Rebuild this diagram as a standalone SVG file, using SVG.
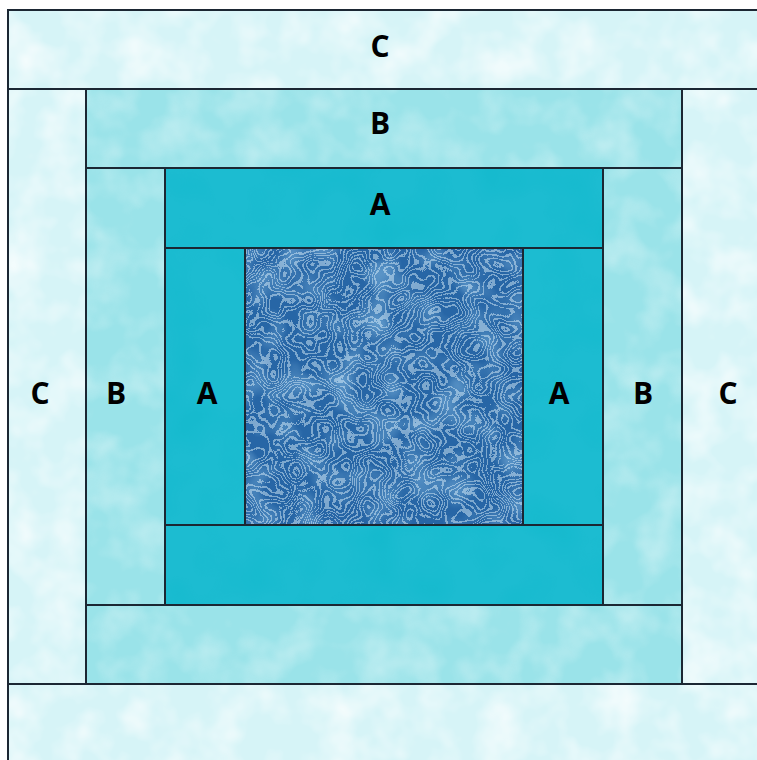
<svg xmlns="http://www.w3.org/2000/svg" width="757" height="760" viewBox="0 0 757 760">
<defs>
<style>
.c{fill:#d6f4f7}
.b{fill:#9ae3e9}
.a{fill:#1cbcd1}
.ctr{fill:#2766a6}
.edge{fill:none;stroke:#1b2733;stroke-width:2}
.lbl{font-family:"Open Sans","Liberation Sans",sans-serif;font-weight:bold;font-size:30px;fill:#000;text-anchor:middle}
.tex{fill:#fff}
</style>
<filter id="mottle" x="0" y="0" width="1" height="1">
<feTurbulence type="fractalNoise" baseFrequency="0.025" numOctaves="3" seed="3" result="n"/>
<feColorMatrix in="n" type="matrix" values="0 0 0 0 1  0 0 0 0 1  0 0 0 0 1  1.4 0 0 0 -0.55" result="w"/>
<feComposite in="w" in2="SourceGraphic" operator="in"/>
</filter>
<filter id="mottleDark" x="0" y="0" width="1" height="1">
<feTurbulence type="fractalNoise" baseFrequency="0.02" numOctaves="2" seed="8" result="n"/>
<feColorMatrix in="n" type="matrix" values="0 0 0 0 0  0 0 0 0 0.45  0 0 0 0 0.55  1.2 0 0 0 -0.55" result="w"/>
<feComposite in="w" in2="SourceGraphic" operator="in"/>
</filter>
<filter id="patch" x="0" y="0" width="1" height="1">
<feTurbulence type="fractalNoise" baseFrequency="0.03" numOctaves="2" seed="21" result="n"/>
<feColorMatrix in="n" type="matrix" values="0 0 0 0 0.35  0 0 0 0 0.65  0 0 0 0 0.9  1.6 0 0 0 -0.7" result="w"/>
<feComposite in="w" in2="SourceGraphic" operator="in"/>
</filter>
<filter id="swirl" x="0" y="0" width="1" height="1">
<feTurbulence type="fractalNoise" baseFrequency="0.018" numOctaves="3" seed="11" result="n"/>
<feColorMatrix in="n" type="matrix" values="0 0 0 0 0.8  0 0 0 0 0.93  0 0 0 0 1  1 0 0 0 0" result="w"/>
<feComponentTransfer in="w" result="bands">
<feFuncA type="discrete" tableValues="0 0 0.9 0 0 0.9 0 0 0.9 0 0 0.9 0 0 0.9 0 0 0.9 0 0 0.9 0 0 0.9 0 0 0.9 0 0 0.9 0 0 0.9 0 0 0.9 0 0 0.9 0 0 0.9 0 0 0.9 0 0 0.9 0 0 0.9 0 0 0.9 0 0 0.9 0 0 0.9"/>
</feComponentTransfer>
<feComposite in="bands" in2="SourceGraphic" operator="in"/>
</filter>
</defs>

<g id="C-top">
<rect class="c" x="8" y="10" width="749" height="79"/>
<rect class="tex" x="8" y="10" width="749" height="79" filter="url(#mottle)"/>
<rect class="edge" x="8" y="10" width="760" height="79"/>
<text class="lbl" x="380" y="57">C</text>
</g>
<g id="C-bottom">
<rect class="c" x="8" y="684" width="749" height="76"/>
<rect class="tex" x="8" y="684" width="749" height="76" filter="url(#mottle)"/>
<rect class="edge" x="8" y="684" width="760" height="90"/>
</g>
<g id="C-left">
<rect class="c" x="8" y="89" width="78" height="595"/>
<rect class="tex" x="8" y="89" width="78" height="595" filter="url(#mottle)"/>
<rect class="edge" x="8" y="89" width="78" height="595"/>
<text class="lbl" x="40" y="404">C</text>
</g>
<g id="C-right">
<rect class="c" x="682" y="89" width="75" height="595"/>
<rect class="tex" x="682" y="89" width="75" height="595" filter="url(#mottle)"/>
<rect class="edge" x="682" y="89" width="90" height="595"/>
<text class="lbl" x="728" y="404">C</text>
</g>

<g id="B-top">
<rect class="b" x="86" y="89" width="596" height="79"/>
<rect class="tex" x="86" y="89" width="596" height="79" filter="url(#mottle)" opacity="0.5"/>
<rect class="edge" x="86" y="89" width="596" height="79"/>
<text class="lbl" x="380" y="134">B</text>
</g>
<g id="B-bottom">
<rect class="b" x="86" y="605" width="596" height="79"/>
<rect class="tex" x="86" y="605" width="596" height="79" filter="url(#mottle)" opacity="0.5"/>
<rect class="edge" x="86" y="605" width="596" height="79"/>
</g>
<g id="B-left">
<rect class="b" x="86" y="168" width="79" height="437"/>
<rect class="tex" x="86" y="168" width="79" height="437" filter="url(#mottle)" opacity="0.5"/>
<rect class="edge" x="86" y="168" width="79" height="437"/>
<text class="lbl" x="116" y="404">B</text>
</g>
<g id="B-right">
<rect class="b" x="603" y="168" width="79" height="437"/>
<rect class="tex" x="603" y="168" width="79" height="437" filter="url(#mottle)" opacity="0.5"/>
<rect class="edge" x="603" y="168" width="79" height="437"/>
<text class="lbl" x="643" y="404">B</text>
</g>

<g id="A-top">
<rect class="a" x="165" y="168" width="438" height="80"/>
<rect class="tex" x="165" y="168" width="438" height="80" filter="url(#mottleDark)" opacity="0.5"/>
<rect class="edge" x="165" y="168" width="438" height="80"/>
<text class="lbl" x="380" y="215">A</text>
</g>
<g id="A-bottom">
<rect class="a" x="165" y="525" width="438" height="80"/>
<rect class="tex" x="165" y="525" width="438" height="80" filter="url(#mottleDark)" opacity="0.5"/>
<rect class="edge" x="165" y="525" width="438" height="80"/>
</g>
<g id="A-left">
<rect class="a" x="165" y="248" width="80" height="277"/>
<rect class="tex" x="165" y="248" width="80" height="277" filter="url(#mottleDark)" opacity="0.5"/>
<rect class="edge" x="165" y="248" width="80" height="277"/>
<text class="lbl" x="207" y="404">A</text>
</g>
<g id="A-right">
<rect class="a" x="523" y="248" width="80" height="277"/>
<rect class="tex" x="523" y="248" width="80" height="277" filter="url(#mottleDark)" opacity="0.5"/>
<rect class="edge" x="523" y="248" width="80" height="277"/>
<text class="lbl" x="559" y="404">A</text>
</g>

<g id="center">
<rect class="ctr" x="245" y="248" width="278" height="277"/>
<rect class="tex" x="245" y="248" width="278" height="277" filter="url(#patch)" opacity="0.7"/>
<rect class="tex" x="245" y="248" width="278" height="277" filter="url(#swirl)" opacity="0.5"/>
<rect class="edge" x="245" y="248" width="278" height="277"/>
</g>
</svg>
